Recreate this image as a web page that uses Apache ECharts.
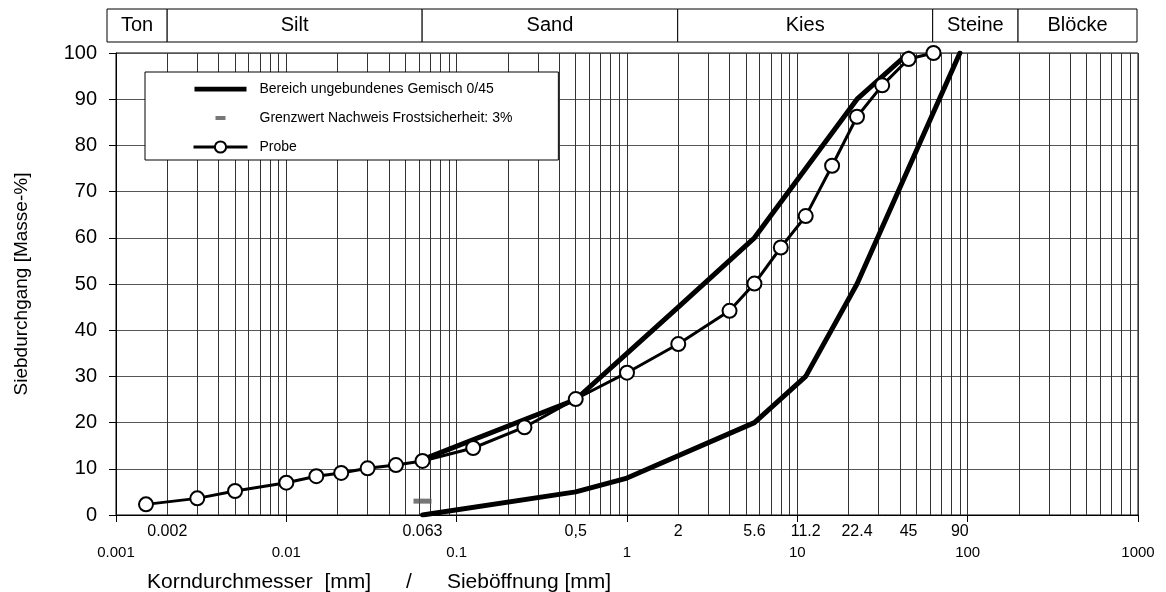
<!DOCTYPE html>
<html>
<head>
<meta charset="utf-8">
<script src="https://cdn.jsdelivr.net/npm/echarts@6/dist/echarts.min.js"></script>
<style>
  html, body { margin: 0; padding: 0; background: #fff; }
  #chart { width: 1166px; height: 592px; }
</style>
</head>
<body>
<div id="chart"></div>
<script>
const probeSizes = [0.0015, 0.003, 0.005, 0.01, 0.015, 0.021, 0.03, 0.044, 0.063, 0.125, 0.25, 0.5, 1, 2, 4, 5.6, 8, 11.2, 16, 22.4, 31.5, 45, 63];
const probePassing = [2.3, 3.6, 5.2, 7.0, 8.4, 9.1, 10.1, 10.8, 11.7, 14.5, 19.0, 25.1, 30.8, 37.0, 44.2, 50.1, 57.9, 64.7, 75.6, 86.2, 93.0, 98.7, 100];

const upperSizes = [0.063, 0.5, 1, 2, 5.6, 11.2, 22.4, 45];
const upperPassing = [12, 25, 35, 45, 60, 75, 90, 100];
const lowerSizes = [0.063, 0.5, 1, 5.6, 11.2, 22.4, 90];
const lowerPassing = [0, 5, 8, 20, 30, 50, 100];

const frostSize = 0.063;
const frostLimit = 3;

// Achsenbeschriftung
const decadeLabels = ['0.001', '0.01', '0.1', '1', '10', '100', '1000'];
const sieveTicks = [0.002, 0.063, 0.5, 2, 5.6, 11.2, 22.4, 45, 90];
const sieveTickLabels = ['0.002', '0.063', '0,5', '2', '5.6', '11.2', '22.4', '45', '90'];

// Bodenarten-Leiste oben (Grenzen in mm)
const soilNames = ['Ton', 'Silt', 'Sand', 'Kies', 'Steine', 'Blöcke'];
const soilBounds = [0.000886, 0.002, 0.063, 2, 63, 200, 1000];

const BEREICH = 'Bereich ungebundenes Gemisch 0/45';
const GRENZ = 'Grenzwert Nachweis Frostsicherheit: 3%';

const font = 'Liberation Sans, Arial, sans-serif';

const zip = (xs, ys) => xs.map((x, i) => [x, ys[i]]);

const chart = echarts.init(document.getElementById('chart'));

const option = {
  animation: false,
  textStyle: { fontFamily: font, color: '#000' },
  title: {
    text: 'Korndurchmesser  [mm]      /      Sieböffnung [mm]',
    left: 147,
    top: 572,
    padding: 0,
    textStyle: { fontSize: 21, fontWeight: 'normal', color: '#000', fontFamily: font }
  },
  legend: {
    orient: 'vertical',
    left: 145,
    top: 72,
    padding: [10, 46, 6, 47],
    itemWidth: 54,
    itemHeight: 14,
    itemGap: 15,
    backgroundColor: '#fff',
    borderColor: '#000',
    borderWidth: 1,
    borderRadius: 0,
    lineStyle: { width: 'inherit' },
    textStyle: { fontSize: 14, color: '#000', fontFamily: font, padding: [0, 0, 0, 7] },
    data: [
      { name: BEREICH, icon: 'path://M0,0M54,14M1,4.8h52v4.6h-52z', itemStyle: { color: '#000' } },
      { name: GRENZ, icon: 'path://M0,0M54,14M22,5h10v4h-10z' },
      { name: 'Probe' }
    ]
  },
  grid: [
    { left: 116, right: 28, top: 53, bottom: 77, show: true, borderColor: '#000', borderWidth: 1 },
    { left: 116, right: 28, top: 53, bottom: 77 },
    { left: 107, right: 29, top: 9, height: 33 }
  ],
  xAxis: [
    {
      type: 'log',
      gridIndex: 0,
      logBase: 10,
      min: 0.001,
      max: 1000,
      splitNumber: 6,
      axisLine: { lineStyle: { color: '#000', width: 1 } },
      axisTick: { show: true, length: 7, lineStyle: { color: '#000' } },
      axisLabel: {
        margin: 30,
        fontSize: 15,
        color: '#000',
        formatter: v => decadeLabels[Math.round(Math.log10(v)) + 3]
      },
      splitLine: { show: true, lineStyle: { color: '#333', width: 1 } },
      minorTick: { show: false, splitNumber: 9 },
      minorSplitLine: { show: true, lineStyle: { color: '#333', width: 1 } }
    },
    {
      // zweite Beschriftungszeile mit Siebgrößen
      type: 'value',
      gridIndex: 1,
      min: -3,
      max: 3,
      axisLine: { show: false },
      axisTick: { show: false },
      splitLine: { show: false },
      axisLabel: {
        margin: 9,
        fontSize: 16,
        color: '#000',
        customValues: sieveTicks.map(Math.log10),
        formatter: v => {
          let best = 0;
          sieveTicks.forEach((t, i) => {
            if (Math.abs(Math.log10(t) - v) < Math.abs(Math.log10(sieveTicks[best]) - v)) best = i;
          });
          return sieveTickLabels[best];
        }
      }
    },
    { type: 'log', gridIndex: 2, min: soilBounds[0], max: 1000, show: false }
  ],
  yAxis: [
    {
      type: 'value',
      gridIndex: 0,
      min: 0,
      max: 100,
      interval: 10,
      name: 'Siebdurchgang [Masse-%]',
      nameLocation: 'middle',
      nameGap: 85,
      nameTextStyle: { fontSize: 19, color: '#000', fontFamily: font },
      axisLine: { show: true, lineStyle: { color: '#000', width: 1 } },
      axisTick: { show: true, length: 7, lineStyle: { color: '#000' } },
      axisLabel: { fontSize: 20, margin: 19, color: '#000', fontFamily: font },
      splitLine: { show: true, lineStyle: { color: '#555', width: 1 } }
    },
    { type: 'value', gridIndex: 1, min: 0, max: 1, show: false },
    { type: 'value', gridIndex: 2, min: 0, max: 1, show: false }
  ],
  series: [
    {
      name: BEREICH,
      type: 'line',
      xAxisIndex: 0,
      yAxisIndex: 0,
      data: zip(upperSizes, upperPassing),
      symbol: 'none',
      itemStyle: { color: '#000' },
      lineStyle: { color: '#000', width: 5, join: 'round', cap: 'round' },
      z: 3
    },
    {
      name: BEREICH,
      type: 'line',
      xAxisIndex: 0,
      yAxisIndex: 0,
      data: zip(lowerSizes, lowerPassing),
      symbol: 'none',
      itemStyle: { color: '#000' },
      lineStyle: { color: '#000', width: 5, join: 'round', cap: 'round' },
      z: 3
    },
    {
      name: GRENZ,
      type: 'scatter',
      xAxisIndex: 0,
      yAxisIndex: 0,
      data: [[frostSize, frostLimit]],
      symbol: 'rect',
      symbolSize: [18, 5],
      itemStyle: { color: '#555' },
      z: 3
    },
    {
      name: 'Probe',
      type: 'line',
      xAxisIndex: 0,
      yAxisIndex: 0,
      data: zip(probeSizes, probePassing),
      symbol: 'circle',
      symbolSize: 14,
      itemStyle: { color: '#fff', borderColor: '#000', borderWidth: 2 },
      lineStyle: { color: '#000', width: 3 },
      z: 4
    },
    {
      name: 'Bodenarten',
      type: 'line',
      xAxisIndex: 2,
      yAxisIndex: 2,
      data: [],
      silent: true,
      markArea: {
        silent: true,
        itemStyle: { color: '#fff', borderColor: '#000', borderWidth: 1 },
        label: { show: true, position: 'inside', color: '#000', fontSize: 20, fontFamily: font },
        data: soilNames.map((n, i) => [
          { name: n, xAxis: soilBounds[i], yAxis: 0 },
          { xAxis: soilBounds[i + 1], yAxis: 1 }
        ])
      }
    }
  ]
};

chart.setOption(option);
</script>
</body>
</html>
